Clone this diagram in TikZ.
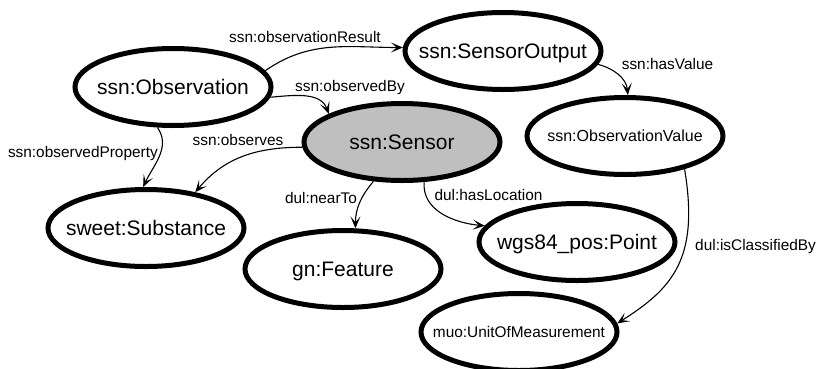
\documentclass[tikz,border=0pt]{standalone}
\usepackage{fontspec}
\setmainfont{Liberation Sans}
\usetikzlibrary{arrows.meta,shapes.geometric}
\definecolor{sensgray}{RGB}{191,191,191}
\newcommand\ctext[1]{\makebox[0pt]{\smash{\raisebox{-.5\height}{#1}}}}
\tikzset{
  cls/.style={ellipse,draw,line width=5pt,inner sep=0pt,minimum width=196pt,minimum height=77pt,fill=white},
  big/.style={font=\fontsize{21}{24}\selectfont},
  mid/.style={font=\fontsize{16}{19}\selectfont},
  rel/.style={line width=1.1pt,-{Stealth[length=12pt,width=10pt,inset=6pt]}},
  lbl/.style={font=\fontsize{15.4}{18}\selectfont,inner sep=0pt,anchor=base}
}
\begin{document}
\begin{tikzpicture}[x=1pt,y=-1pt]
\useasboundingbox (0,0) rectangle (817,368);
\clip (0,0) rectangle (817,368);
% nodes
\node[cls,big] (obs) at (173,87) {\ctext{ssn:Observation}};
\node[cls,big] (so) at (503,51) {\ctext{ssn:SensorOutput}};
\node[cls,big,fill=sensgray] (sens) at (402,142) {\ctext{ssn:Sensor}};
\node[cls,mid] (ov) at (625,136) {\ctext{ssn:ObservationValue}};
\node[cls,big] (sub) at (146,228) {\ctext{sweet:Substance}};
\node[cls,big] (feat) at (343,269) {\ctext{gn:Feature}};
\node[cls,big] (pt) at (577,242) {\ctext{wgs84\_pos:Point}};
\node[cls,font=\fontsize{15.4}{18}\selectfont] (muo) at (519,332) {\ctext{muo:UnitOfMeasurement}};
% edges
\draw[rel] (obs.10) to[out=35,in=180] (so.178);
\draw[rel] (obs.-6) to[out=5,in=110] (sens.159);
\draw[rel] (obs.249) to[out=-55,in=65] (sub.94);
\draw[rel] (sens.183) to[out=180,in=50] (sub.36);
\draw[rel] (sens.234) to[out=-130,in=90] (feat.73);
\draw[rel] (sens.-61) to[out=-95,in=175] (pt.170);
\draw[rel] (so.-8) to[out=-15,in=95] (ov.86);
\draw[rel] (ov.-29) .. controls +(15,90) and +(55,-35) .. (muo.5);
% labels
\node[lbl] (l1) at (305,42) {ssn:observationResult};
\node[lbl] (l2) at (350,91) {ssn:observedBy};
\node[lbl,anchor=base east] (l3) at (158,157) {ssn:observedProperty};
\node[lbl] (l4) at (238,145) {ssn:observes};
\node[lbl] (l5) at (321,203) {dul:nearTo};
\node[lbl] (l6) at (488.5,200) {dul:hasLocation};
\node[lbl] (l7) at (667.5,69) {ssn:hasValue};
\node[lbl,anchor=base west] (l8) at (695,250) {dul:isClassifiedBy};
\end{tikzpicture}
\end{document}
